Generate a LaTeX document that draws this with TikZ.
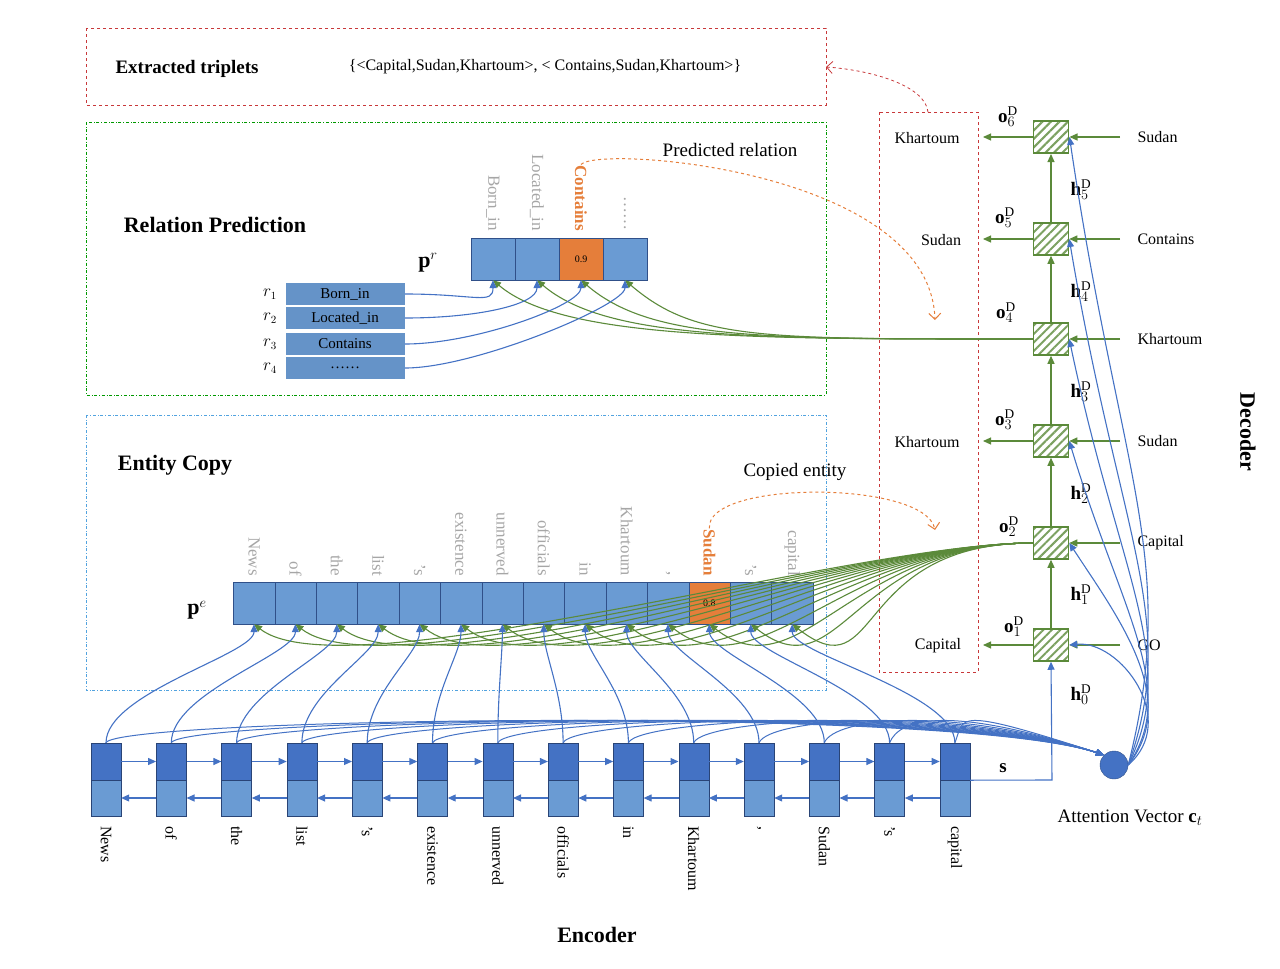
\documentclass[tikz,border=0pt]{standalone}
\usepackage{fontspec}
\setmainfont{Liberation Serif}
\usetikzlibrary{patterns.meta,arrows.meta,calc}
\definecolor{cb}{HTML}{6A9BD3}
\definecolor{cd}{HTML}{4472C4}
\definecolor{cg}{HTML}{5B8A3A}
\definecolor{co}{HTML}{E57E3A}
\definecolor{cr}{HTML}{C8383A}
\begin{document}
\begin{tikzpicture}[x=1pt,y=-1pt,
 txt/.style={font=\fontsize{16}{18}\selectfont},
 gl/.style={font=\fontsize{17}{18}\selectfont,text=gray!70,rotate=-90,anchor=east,inner sep=1pt},
 cell/.style={draw=cd!70!black,fill=cb,minimum width=41.4pt,minimum height=42pt,inner sep=0pt},
 rcell/.style={draw=cd!70!black,fill=cb,minimum width=44pt,minimum height=42pt,inner sep=0pt},
 dec/.style={draw=cg,line width=1.5pt,pattern={Lines[angle=45,distance=6pt,line width=2pt]},pattern color=cg!80,minimum width=35pt,minimum height=32pt,inner sep=0pt},
 ba/.style={cd,line width=1.1pt,-{Triangle[length=8pt,width=7pt]}},
 ga/.style={cg,line width=1.1pt,-{Triangle[length=8pt,width=7pt]}},
 bl/.style={cd,line width=1pt}]
\useasboundingbox (0,0) rectangle (1280,969);
% frames
\draw[cr,dashed,line width=0.8pt] (86,28) rectangle (826,105);
\draw[green!60!black,dash dot,line width=0.8pt] (86,122) rectangle (826,395);
\draw[cyan!70!blue!70,dash dot,line width=0.8pt] (86,415) rectangle (826,690);
\draw[cr,dashed,line width=0.8pt] (879,112) rectangle (978,672);
\node[font=\fontsize{19}{20}\selectfont\bfseries] (et) at (187,69) {Extracted triplets};
\node[txt] (trip) at (545,67) {\{<Capital,Sudan,Khartoum>, < Contains,Sudan,Khartoum>\}};
\node[font=\fontsize{22}{24}\selectfont\bfseries] (rp) at (215,225) {Relation Prediction};
\node[font=\fontsize{22}{24}\selectfont\bfseries] (ec) at (175,465) {Entity Copy};
% relation bar
\foreach \i/\lab in {0/Born\_in,1/Located\_in,3/\ldots\ldots}{
 \node[rcell] (r\i) at (493+44*\i,259) {};
 \node[gl] (rl\i) at (493+44*\i,232) {\lab};}
\node[rcell,fill=co] (r2) at (581,259) {\fontsize{10}{12}\selectfont 0.9};
\node[gl,text=co,font=\fontsize{17}{18}\selectfont\bfseries] (rl2) at (581,232) {Contains};
\node[font=\fontsize{22}{24}\selectfont\bfseries] (pr) at (428,263) {$\mathbf{p}^r$};
\node[font=\fontsize{19}{20}\selectfont] (predl) at (730,150) {Predicted relation};
\draw[co,dashed,line width=1pt,-{Straight Barb[length=6pt]}] (rl2.west) .. controls (600,145) and (930,170) .. (935,320);
% relation list
\foreach \i/\lab/\y in {1/Born\_in/294,2/Located\_in/318,3/Contains/344,4/\ldots\ldots/368}{
 \node[draw=white,fill=cb!95!black,minimum width=120pt,minimum height=23pt,inner sep=0pt,font=\fontsize{15}{16}\selectfont] (rb\i) at (345,\y) {\lab};
 \node[txt] (rn\i) at (270,\y) {$r_{\i}$};}
% decoder
\foreach \i/\y in {6/137,5/239,4/339,3/441,2/543,1/645}{\node[dec] (d\i) at (1051,\y) {};}
\foreach \i/\j in {1/0,2/1,3/2,4/3}{
 \draw[ga] (d4.west) .. controls (760,339) and ($(r\j.south)+(70,60)$) .. (r\j.south);}
\foreach \i/\j in {1/0,2/1,3/2,4/3}{
 \draw[ba] (rb\i.east) .. controls +(70,0) and +(0,25) .. (r\j.south);}
\foreach \a/\b in {1/2,2/3,3/4,4/5,5/6}{\draw[ga] (d\a) -- (d\b);}
\foreach \i/\x/\y in {6/1008/117,5/1005/218,4/1006/313,3/1005/420,2/1009/527,1/1014/627}{
 \node[font=\fontsize{19}{20}\selectfont] (o\i) at (\x,\y) {$\mathbf{o}^{\mathrm{D}}_{\i}$};}
\foreach \i/\y in {5/190,4/292,3/392,2/494,1/595,0/695}{
 \node[font=\fontsize{19}{20}\selectfont] (h\i) at (1081,\y) {$\mathbf{h}^{\mathrm{D}}_{\i}$};}
\foreach \i/\y in {6/137,5/239,3/441,1/645}{
 \coordinate (oe\i) at (983,\y);
 \draw[ga] (d\i.west) -- (oe\i);}
\foreach \i/\lab in {6/Sudan,5/Contains,4/Khartoum,3/Sudan,2/Capital,1/GO}{
 \node[txt,anchor=west] (in\i) at (1134,0|-d\i) {\lab};
 \coordinate (ie\i) at (1120,0|-d\i);
 \draw[ga] (ie\i) -- (d\i.east);}
\node[txt] (k1) at (927,138) {Khartoum};
\node[txt] (k2) at (941,240) {Sudan};
\node[txt] (k3) at (927,442) {Khartoum};
\node[txt] (k4) at (938,646) {Capital};
\coordinate (rt) at (928,112);
\draw[cr,dashed,line width=0.8pt,-{Straight Barb[length=6pt]}] (rt) .. controls (925,85) and (870,70) .. (826,67);
\node[font=\fontsize{22}{24}\selectfont\bfseries,rotate=-90] (decl) at (1248,432) {Decoder};
% entity bar
\foreach \i/\lab in {0/News,1/of,2/the,3/list,4/'s,5/existence,6/unnerved,7/officials,8/in,9/Khartoum,10/{,},12/'s,13/capital}{
 \node[cell] (e\i) at (254+41.4*\i,603) {};
 \node[gl] (el\i) at (254+41.4*\i,577) {\lab};}
\node[cell,fill=co] (e11) at (254+41.4*11,603) {\fontsize{10}{12}\selectfont 0.8};
\node[gl,text=co,font=\fontsize{17}{18}\selectfont\bfseries] (el11) at (254+41.4*11,577) {Sudan};
\node[font=\fontsize{22}{24}\selectfont\bfseries] (pe) at (197,610) {$\mathbf{p}^e$};
\node[font=\fontsize{19}{20}\selectfont] (copl) at (795,472) {Copied entity};
\draw[co,dashed,line width=1pt,-{Straight Barb[length=6pt]}] (el11.west) .. controls (705,480) and (925,480) .. (935,530);
\foreach \i in {0,...,13}{
 \draw[ga] (d2.west) .. controls (850,543) and ($(e\i.south)+(90,70)$) .. (e\i.south);}
% encoder
\node[circle,draw=cd!70!black,fill=cd,minimum size=28pt,inner sep=0pt] (att) at (1114,765) {};
\foreach \i/\lab in {0/News,1/of,2/the,3/list,4/'s,5/existence,6/unnerved,7/officials,8/in,9/Khartoum,10/{,},11/Sudan,12/'s,13/capital}{
 \node[draw=cd!60!black,fill=cd,minimum width=30pt,minimum height=37pt,inner sep=0pt] (u\i) at (106+65.3*\i,761.5) {};
 \node[draw=cd!60!black,fill=cb,minimum width=30pt,minimum height=36pt,inner sep=0pt] (v\i) at (106+65.3*\i,798) {};
 \node[txt,rotate=-90,anchor=west,inner sep=1pt] (w\i) at (106+65.3*\i,825) {\lab};
 \draw[ba] (u\i.north) .. controls +(0,-50) and +(0,30) .. (e\i.south);
 \draw[bl,-{Triangle[length=8pt,width=7pt]}] (u\i.north) .. controls +(10,-25) and (950,705) .. (att.north west);}
\foreach \a/\b in {0/1,1/2,2/3,3/4,4/5,5/6,6/7,7/8,8/9,9/10,10/11,11/12,12/13}{
 \draw[ba] (u\a) -- (u\b);
 \draw[ba] (v\b) -- (v\a);}
\node[font=\fontsize{19}{20}\selectfont] (attl) at (1130,818) {Attention Vector $\mathbf{c}_t$};
\node[font=\fontsize{19}{20}\selectfont\bfseries] (sl) at (1003,768) {$\mathbf{s}$};
\draw[ba] (u13.south east) -- (1052,780) -- (d1.south);
\foreach \i/\c in {6/560,5/620,4/660,3/690,2/700,1/720}{
 \draw[ba] (att.east) .. controls (1180,\c) and (1120,\c-80) .. (d\i.east);}
\node[font=\fontsize{22}{24}\selectfont\bfseries] (encl) at (597,935) {Encoder};
\end{tikzpicture}
\end{document}
